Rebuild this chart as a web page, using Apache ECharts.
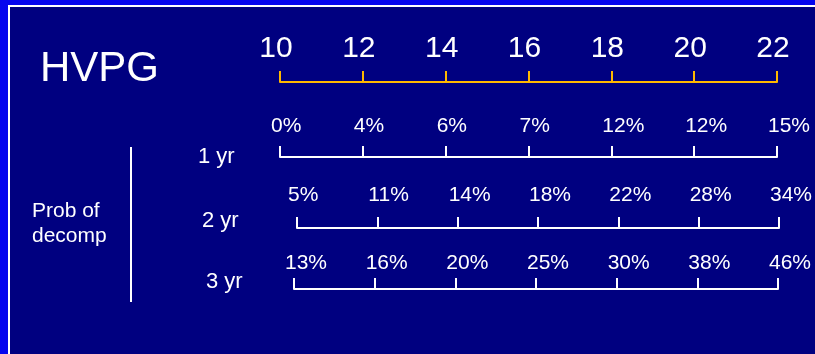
<!DOCTYPE html>
<html>
<head>
<meta charset="utf-8">
<script src="https://cdn.jsdelivr.net/npm/echarts@6/dist/echarts.min.js"></script>
<style>
  html, body { margin: 0; padding: 0; background: #0505EE; }
  #chart { width: 815px; height: 354px; }
</style>
</head>
<body>
<div id="chart"></div>
<script>
// HVPG values marked along the top scale
const hvpgTicks = [10, 12, 14, 16, 18, 20, 22];
// Row captions
const rowNames = ['1 yr', '2 yr', '3 yr'];
// Probability of decompensation (%) at each HVPG value
const prob1yr = [0, 4, 6, 7, 12, 12, 15];
const prob2yr = [5, 11, 14, 18, 22, 28, 34];
const prob3yr = [13, 16, 20, 25, 30, 38, 46];

const FONT = '"Liberation Sans", Arial, sans-serif';
const NAVY = '#000080';
const GOLD = '#FFB800';
const WHITE = '#ffffff';

const rows = [
  { name: rowNames[0], values: prob1yr, lineY: 157, left: 280, end: 777, dist: 20, capY: 157 },
  { name: rowNames[1], values: prob2yr, lineY: 228, left: 297, end: 779, dist: 22, capY: 221 },
  { name: rowNames[2], values: prob3yr, lineY: 289, left: 294, end: 778, dist: 15, capY: 282 }
];
const captionX = [198, 202, 206];

const grids = [{ left: 280, right: 815 - 777, top: 82, height: 20 }];
const xAxes = [{
  type: 'value', gridIndex: 0, position: 'top', min: 10, max: 22, interval: 2,
  axisLine: { onZero: false, lineStyle: { color: GOLD, width: 2 } },
  axisTick: { length: 11, lineStyle: { color: GOLD, width: 2 } },
  axisLabel: { color: WHITE, fontSize: 30, fontFamily: FONT, margin: 18, padding: [0, 8, 0, 0] },
  splitLine: { show: false }
}];
const yAxes = [{ type: 'value', gridIndex: 0, min: 0, max: 1, show: false }];
const series = [];

rows.forEach((r, i) => {
  const g = i + 1;
  grids.push({ left: r.left, right: 815 - r.end, top: r.lineY - 30, height: 30 });
  xAxes.push({
    type: 'value', gridIndex: g, position: 'bottom', min: 10, max: 22, interval: 2,
    axisLine: { onZero: false, lineStyle: { color: WHITE, width: 2 } },
    axisTick: { inside: true, length: 11, lineStyle: { color: WHITE, width: 2 } },
    axisLabel: { show: false },
    splitLine: { show: false }
  });
  yAxes.push({ type: 'value', gridIndex: g, min: 0, max: 1, show: false });
  series.push({
    type: 'scatter', xAxisIndex: g, yAxisIndex: g, silent: true,
    symbolSize: 0, itemStyle: { color: WHITE, opacity: 1 },
    emphasis: { disabled: true },
    data: hvpgTicks.map((h, k) => [h, 0, r.values[k]]),
    label: {
      show: true, position: 'top', distance: r.dist, align: 'left', offset: [-9, 0],
      color: WHITE, opacity: 1, textBorderWidth: 0, fontSize: 21, fontFamily: FONT,
      formatter: p => p.value[2] + '%'
    }
  });
});

const texts = [
  { type: 'text', x: 40, y: 69, style: { text: 'HVPG', fill: WHITE, fontSize: 42, fontFamily: FONT, verticalAlign: 'middle' } },
  { type: 'text', x: 32, y: 211, style: { text: 'Prob of', fill: WHITE, fontSize: 21, fontFamily: FONT, verticalAlign: 'middle' } },
  { type: 'text', x: 32, y: 236, style: { text: 'decomp', fill: WHITE, fontSize: 21, fontFamily: FONT, verticalAlign: 'middle' } },
  { type: 'line', shape: { x1: 131, y1: 147, x2: 131, y2: 302 }, style: { stroke: WHITE, lineWidth: 2 } }
];
rows.forEach((r, i) => {
  texts.push({ type: 'text', x: captionX[i], y: r.capY, style: { text: r.name, fill: WHITE, fontSize: 22, fontFamily: FONT, verticalAlign: 'middle' } });
});

const chart = echarts.init(document.getElementById('chart'), null, { renderer: 'canvas' });
chart.setOption({
  backgroundColor: '#0505EE',
  animation: false,
  graphic: [
    { type: 'rect', z: -100, shape: { x: 9, y: 6, width: 900, height: 400 }, style: { fill: NAVY, stroke: WHITE, lineWidth: 2 } }
  ].concat(texts),
  grid: grids,
  xAxis: xAxes,
  yAxis: yAxes,
  series: series
});
</script>
</body>
</html>
